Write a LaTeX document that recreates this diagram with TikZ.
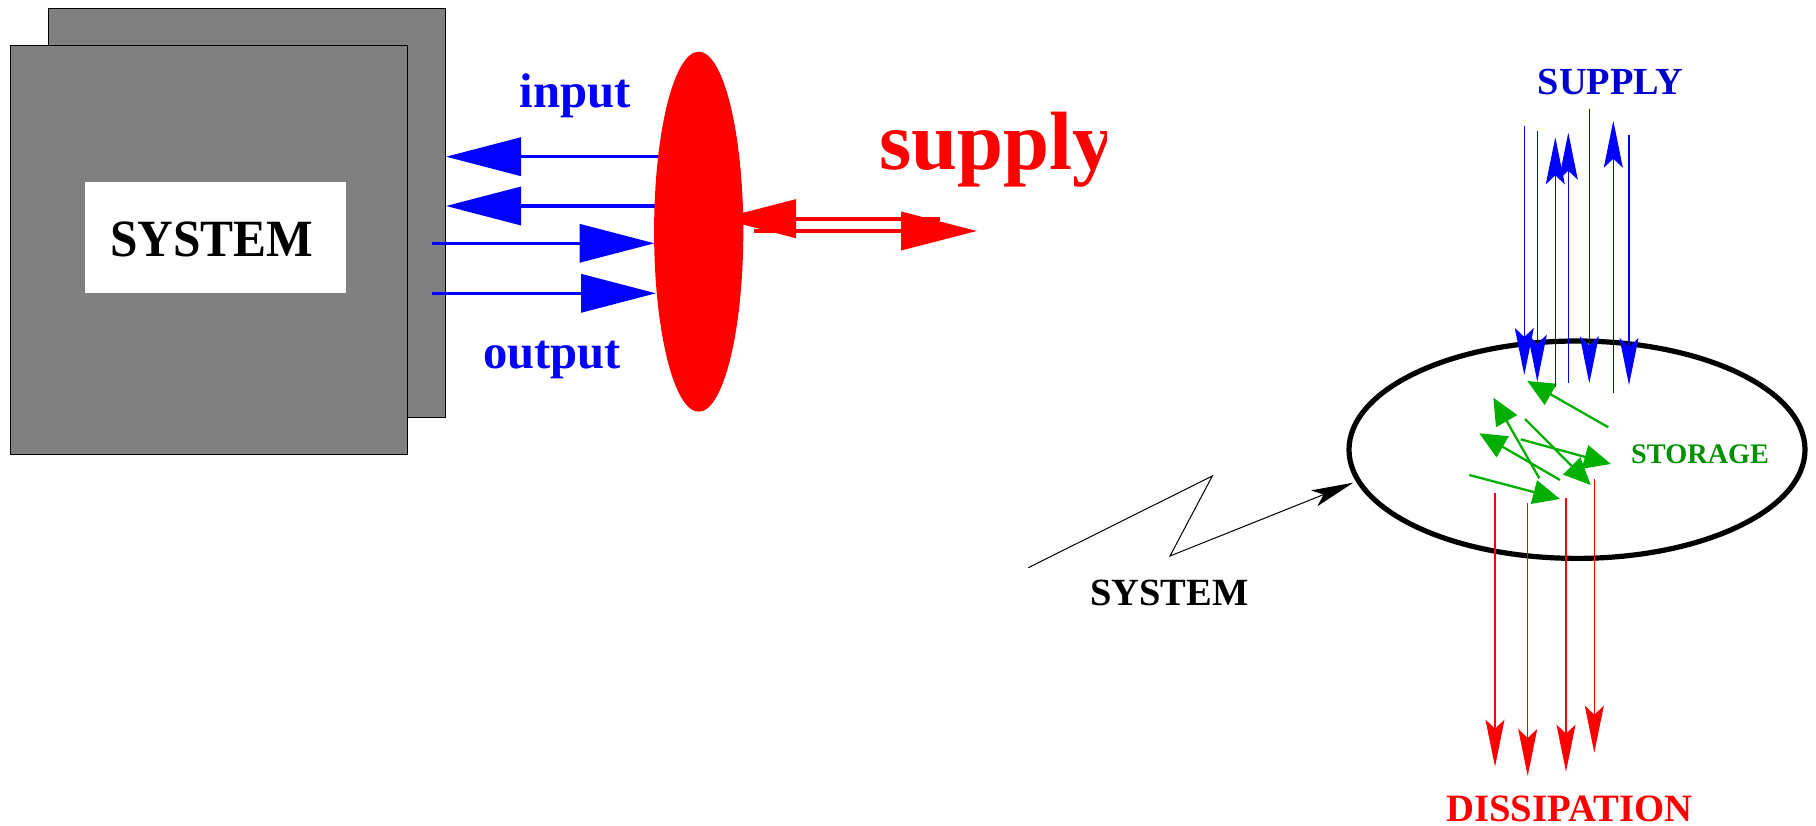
\documentclass[tikz,border=0pt]{standalone}
\usepackage{fontspec}
\setmainfont{Liberation Serif}
\usetikzlibrary{arrows.meta,shapes.geometric}
\definecolor{xblue}{HTML}{0000FF}
\definecolor{supblue}{HTML}{0000D0}
\definecolor{xgreen}{HTML}{00B000}
\definecolor{stgreen}{HTML}{009000}
\definecolor{xgray}{HTML}{808080}
\definecolor{xred}{HTML}{FF0000}
\begin{document}
\begin{tikzpicture}[x=1pt,y=-1pt,
  lbl/.style={inner sep=0, anchor=base},
  panel/.style={draw=black, fill=xgray, line width=1.3pt, minimum width=397pt, minimum height=409pt, inner sep=0, anchor=north west},
  bigarrow/.style={line width=3.4pt, -{Triangle[length=75pt,width=38pt]}},
  redarrow/.style={xred, line width=3.8pt, -{Triangle[length=76pt,width=38pt]}},
  thinarrow/.style={line width=1.2pt, -{Stealth[length=47pt,width=19pt,inset=9pt]}},
  greenarrow/.style={xgreen, line width=2.3pt, -{Triangle[length=27pt,width=24pt]}},
]
\useasboundingbox (0,0) rectangle (1816,826);

% ---------- left part ----------
\node[panel] (back) at (48,8) {};
\node[panel] (front) at (10,45) {};
\node[fill=white, minimum width=261pt, minimum height=111pt, inner sep=0] (sysbox) at (215.5,237.5) {};
\node[lbl, font=\bfseries\fontsize{49.4pt}{50pt}\selectfont, yscale=1.06] (sysname) at (211.7,256.7) {SYSTEM};

% blue input / output arrows
\coordinate (in1s) at (668,156.7);  \coordinate (in1e) at (446,156.7);
\coordinate (in2s) at (668,206);    \coordinate (in2e) at (446,206);
\coordinate (out1s) at (431.5,243.3); \coordinate (out1e) at (654.5,243.3);
\coordinate (out2s) at (431.5,293.3); \coordinate (out2e) at (656,293.3);
\draw[xblue, bigarrow] (in1s) -- (in1e);
\draw[xblue, bigarrow] (in2s) -- (in2e);
\draw[xblue, bigarrow] (out1s) -- (out1e);
\draw[xblue, bigarrow] (out2s) -- (out2e);

% red port ellipse
\node[ellipse, fill=xred, minimum width=89.2pt, minimum height=360pt, inner sep=0] (port) at (698.7,231.7) {};

% red double arrow
\coordinate (d1s) at (940,218.7); \coordinate (d1e) at (720,218.7);
\coordinate (d2s) at (754,231);   \coordinate (d2e) at (977,231);
\draw[redarrow] (d1s) -- (d1e);
\draw[redarrow] (d2s) -- (d2e);

% labels
\node[lbl, text=xblue, font=\bfseries\fontsize{48.7pt}{50pt}\selectfont] (inlbl) at (575,107.3) {input};
\node[lbl, text=xblue, font=\bfseries\fontsize{48.6pt}{50pt}\selectfont] (outlbl) at (552,368.3) {output};
\begin{scope}
  \clip (870,80) rectangle (1106,200);
  \node[inner sep=0, anchor=base west, text=xred, font=\bfseries\fontsize{82.7pt}{84pt}\selectfont] (suplbl) at (879,169.3) {supply};
\end{scope}

% ---------- right part ----------
\node[ellipse, draw=black, line width=5.2pt, minimum width=456pt, minimum height=217.4pt, inner sep=0] (sysell) at (1577,449.7) {};

% zigzag pointer
\coordinate (z0) at (1028.3,567.7);
\coordinate (z1) at (1212.3,476);
\coordinate (z2) at (1170,556);
\coordinate (z3) at (1353.3,482.7);
\draw[line width=1pt, -{Stealth[length=42pt,width=17pt,inset=10pt]}] (z0) -- (z1) -- (z2) -- (z3);
\node[lbl, font=\bfseries\fontsize{38.5pt}{40pt}\selectfont] (syslbl) at (1169.2,605.7) {SYSTEM};

% green storage arrows
\foreach \n/\ax/\ay/\bx/\by in {1/1608.3/427.3/1527.3/381, 2/1539.3/478.3/1493.3/397.7, 3/1560/480/1479.3/433.3, 4/1525/419/1590.7/485, 5/1520.7/439.3/1611/464, 6/1469.3/475/1560/499}{
  \coordinate (g\n s) at (\ax,\ay);
  \coordinate (g\n e) at (\bx,\by);
  \draw[greenarrow] (g\n s) -- (g\n e);
}
\node[lbl, anchor=base west, text=stgreen, font=\bfseries\fontsize{28.3pt}{30pt}\selectfont] (stlbl) at (1631,463.3) {STORAGE};

% blue supply arrows
\foreach \n/\x/\a/\b in {a/1524.3/126/375, b/1537.3/131/381.7, c/1555.3/386.7/137.3, d/1568.3/382.7/132.7, e/1589.3/109.3/383.3, f/1613.3/393.3/120.7, g/1629/135/385}{
  \coordinate (s\n s) at (\x,\a);
  \coordinate (s\n e) at (\x,\b);
  \draw[xblue, thinarrow] (s\n s) -- (s\n e);
}
\node[lbl, text=supblue, font=\bfseries\fontsize{38.3pt}{40pt}\selectfont] (suplbl2) at (1610.5,95) {SUPPLY};

% red dissipation arrows
\foreach \n/\x/\a/\b in {1/1495/493.3/766.7, 2/1527.7/502.7/776, 3/1566/498.3/771.7, 4/1594.3/479.3/752.7}{
  \coordinate (r\n s) at (\x,\a);
  \coordinate (r\n e) at (\x,\b);
  \draw[xred, thinarrow] (r\n s) -- (r\n e);
}
\node[lbl, text=xred, font=\bfseries\fontsize{38.7pt}{40pt}\selectfont] (dislbl) at (1569.2,821) {DISSIPATION};
\end{tikzpicture}
\end{document}
